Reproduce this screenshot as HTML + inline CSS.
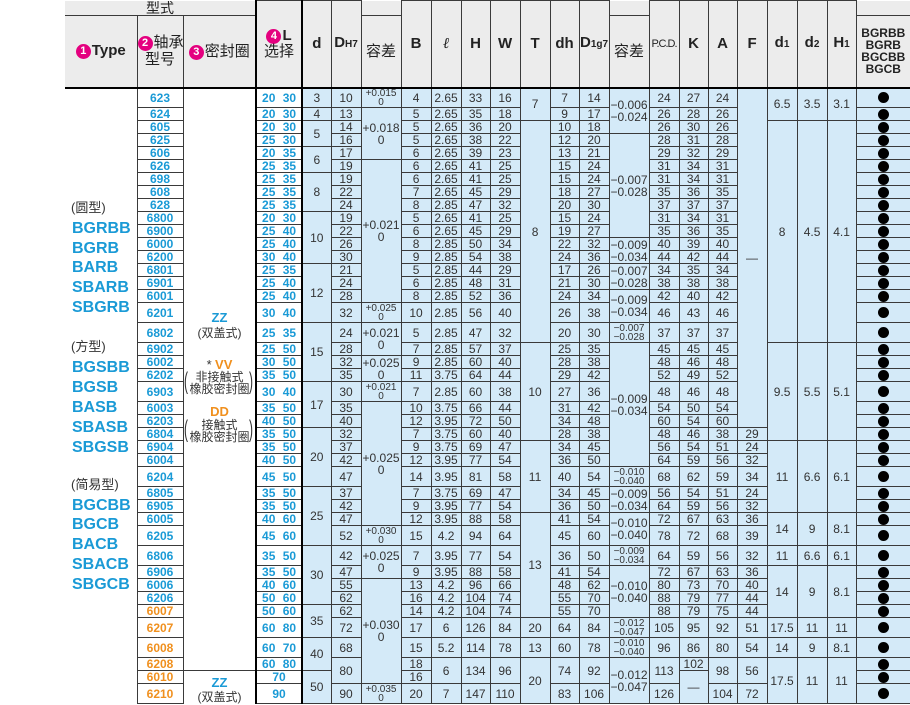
<!DOCTYPE html>
<html><head><meta charset="utf-8">
<style>
body{margin:0;width:910px;height:705px;overflow:hidden;background:#fff;position:relative;font-family:"Liberation Sans","Noto Sans CJK SC",sans-serif}
table{position:absolute;left:65px;top:0;border-collapse:collapse;table-layout:fixed;width:845px}
td{border:1px solid #3a3a3a;padding:0;text-align:center;vertical-align:middle;font:12px/12px "Liberation Sans Narrow","Liberation Sans","Noto Sans CJK SC",sans-serif;color:#333;background:#d4eaf8;overflow:hidden;white-space:nowrap}
tr{height:13px}
tr.T{height:20px}
td.n{background:#fff;color:#1a9ad6;font-weight:bold;font-family:"Liberation Sans",sans-serif}
td.o{background:#fff;color:#f0901e;font-weight:bold;font-family:"Liberation Sans",sans-serif}
td.L{background:#fff;color:#1a9ad6;font-weight:bold;font-family:"Liberation Sans",sans-serif;border-left:2px solid #000;border-right:2px solid #000;word-spacing:4px}
td.ty{background:#fff;border:none}
td.se{background:#fff;border-top:none;border-bottom:none;border-left:1px solid #3a3a3a}
td.se2{background:#fff;border-bottom:none}
td.s{font-size:10px;line-height:9px}
td.t{line-height:12px}
td.b{font-size:0;line-height:0}
td.b::after{content:"";display:inline-block;width:11px;height:11px;border-radius:50%;background:#000}
td.h{background:#ececec;font:bold 15px/16px "Liberation Sans","Noto Sans CJK SC",sans-serif;color:#222}
td.hc{background:#ececec;font:15px/17px "Liberation Sans","Noto Sans CJK SC",sans-serif;color:#222}
tr.hb td{border-bottom:2px solid #000}
sub{font-size:10px;vertical-align:baseline}
.c{display:inline-block;width:15px;height:15px;border-radius:50%;background:#e4007f;color:#fff;font:bold 11px/15px "Liberation Sans",sans-serif;text-align:center;vertical-align:1px;margin-right:1px}
.ov{position:absolute;white-space:nowrap;font-family:"Liberation Sans","Noto Sans CJK SC",sans-serif}
.bt{left:72px;font:bold 16px/20px "Liberation Sans",sans-serif;color:#1a9ad6}
.gt{left:71px;font-size:13px;line-height:16px;color:#333}
.sc{left:183px;width:73px;text-align:center;font-size:12px;line-height:13px;color:#333}
.zz{color:#1a9ad6;font-weight:bold;font-size:13px}
.vv{color:#f0901e;font-weight:bold;font-size:13px}
.par{position:absolute;font-size:24px;line-height:26px;color:#333;transform:scaleX(0.5)}
</style></head><body>
<table>
<colgroup><col style="width:72px"><col style="width:46px"><col style="width:73px"><col style="width:46px"><col style="width:29px"><col style="width:30px"><col style="width:40px"><col style="width:30px"><col style="width:30px"><col style="width:29px"><col style="width:30px"><col style="width:30px"><col style="width:29px"><col style="width:30px"><col style="width:40px"><col style="width:30px"><col style="width:29px"><col style="width:29px"><col style="width:30px"><col style="width:30px"><col style="width:30px"><col style="width:29px"><col style="width:54px"></colgroup>
<tr style="height:15px"><td colspan="3" class="hc" style="font-size:14px;line-height:14px;border-top:none;border-left:none">型式</td><td rowspan="2" class="h" style="border-left:2px solid #000;border-right:2px solid #000;border-bottom:2px solid #000"><span class="c">4</span>L<br><span style="font-weight:normal">选择</span></td><td rowspan="2" class="h" style="border-bottom:2px solid #000">d</td><td rowspan="2" class="h" style="border-bottom:2px solid #000">D<sub>H7</sub></td><td class="h" style="border-left:none;border-top:none"></td><td rowspan="2" class="h" style="border-bottom:2px solid #000">B</td><td rowspan="2" class="h" style="border-bottom:2px solid #000;font-style:italic;font-weight:normal;font-family:'Liberation Serif',serif">ℓ</td><td rowspan="2" class="h" style="border-bottom:2px solid #000">H</td><td rowspan="2" class="h" style="border-bottom:2px solid #000">W</td><td rowspan="2" class="h" style="border-bottom:2px solid #000">T</td><td rowspan="2" class="h" style="border-bottom:2px solid #000">dh</td><td rowspan="2" class="h" style="border-bottom:2px solid #000">D<sub>1g7</sub></td><td class="h" style="border-top:none"></td><td rowspan="2" class="h" style="border-bottom:2px solid #000;font-size:11px;font-weight:normal;letter-spacing:-1px">P.C.D.</td><td rowspan="2" class="h" style="border-bottom:2px solid #000">K</td><td rowspan="2" class="h" style="border-bottom:2px solid #000">A</td><td rowspan="2" class="h" style="border-bottom:2px solid #000">F</td><td rowspan="2" class="h" style="border-bottom:2px solid #000">d<sub>1</sub></td><td rowspan="2" class="h" style="border-bottom:2px solid #000">d<sub>2</sub></td><td rowspan="2" class="h" style="border-bottom:2px solid #000">H<sub>1</sub></td><td class="h" style="border-top:none;border-right:none"></td></tr>
<tr class="hb" style="height:72px"><td class="h" style="border-left:none"><span class="c">1</span>Type</td><td class="hc" style="line-height:17px"><span class="c">2</span>轴承<br>型号</td><td class="hc"><span class="c">3</span>密封圈</td><td class="hc">容差</td><td class="hc">容差</td><td class="h" style="font-size:12px;line-height:12px;border-right:none">BGRBB<br>BGRB<br>BGCBB<br>BGCB</td></tr>

<tr class="T"><td rowspan="42" class="ty"></td><td class="n">623</td><td rowspan="40" class="se"></td><td class="L">20 30</td><td>3</td><td>10</td><td class="s">+0.015<br>0</td><td>4</td><td>2.65</td><td>33</td><td>16</td><td rowspan="2">7</td><td>7</td><td>14</td><td rowspan="3" class="t">−0.006<br>−0.024</td><td>24</td><td>27</td><td>24</td><td rowspan="24">—</td><td rowspan="2">6.5</td><td rowspan="2">3.5</td><td rowspan="2">3.1</td><td class="b">●</td></tr>
<tr><td class="n">624</td><td class="L">20 30</td><td>4</td><td>13</td><td rowspan="4" class="t">+0.018<br>0</td><td>5</td><td>2.65</td><td>35</td><td>18</td><td>9</td><td>17</td><td>26</td><td>28</td><td>26</td><td class="b">●</td></tr>
<tr><td class="n">605</td><td class="L">20 30</td><td rowspan="2">5</td><td>14</td><td>5</td><td>2.65</td><td>36</td><td>20</td><td rowspan="16">8</td><td>10</td><td>18</td><td>26</td><td>30</td><td>26</td><td rowspan="16">8</td><td rowspan="16">4.5</td><td rowspan="16">4.1</td><td class="b">●</td></tr>
<tr><td class="n">625</td><td class="L">25 30</td><td>16</td><td>5</td><td>2.65</td><td>38</td><td>22</td><td>12</td><td>20</td><td rowspan="8" class="t">−0.007<br>−0.028</td><td>28</td><td>31</td><td>28</td><td class="b">●</td></tr>
<tr><td class="n">606</td><td class="L">20 35</td><td rowspan="2">6</td><td>17</td><td>6</td><td>2.65</td><td>39</td><td>23</td><td>13</td><td>21</td><td>29</td><td>32</td><td>29</td><td class="b">●</td></tr>
<tr><td class="n">626</td><td class="L">25 35</td><td>19</td><td rowspan="11" class="t">+0.021<br>0</td><td>6</td><td>2.65</td><td>41</td><td>25</td><td>15</td><td>24</td><td>31</td><td>34</td><td>31</td><td class="b">●</td></tr>
<tr><td class="n">698</td><td class="L">25 35</td><td rowspan="3">8</td><td>19</td><td>6</td><td>2.65</td><td>41</td><td>25</td><td>15</td><td>24</td><td>31</td><td>34</td><td>31</td><td class="b">●</td></tr>
<tr><td class="n">608</td><td class="L">25 35</td><td>22</td><td>7</td><td>2.65</td><td>45</td><td>29</td><td>18</td><td>27</td><td>35</td><td>36</td><td>35</td><td class="b">●</td></tr>
<tr><td class="n">628</td><td class="L">25 35</td><td>24</td><td>8</td><td>2.85</td><td>47</td><td>32</td><td>20</td><td>30</td><td>37</td><td>37</td><td>37</td><td class="b">●</td></tr>
<tr><td class="n">6800</td><td class="L">20 30</td><td rowspan="4">10</td><td>19</td><td>5</td><td>2.65</td><td>41</td><td>25</td><td>15</td><td>24</td><td>31</td><td>34</td><td>31</td><td class="b">●</td></tr>
<tr><td class="n">6900</td><td class="L">25 40</td><td>22</td><td>6</td><td>2.65</td><td>45</td><td>29</td><td>19</td><td>27</td><td>35</td><td>36</td><td>35</td><td class="b">●</td></tr>
<tr><td class="n">6000</td><td class="L">25 40</td><td>26</td><td>8</td><td>2.85</td><td>50</td><td>34</td><td>22</td><td>32</td><td rowspan="2" class="t">−0.009<br>−0.034</td><td>40</td><td>39</td><td>40</td><td class="b">●</td></tr>
<tr><td class="n">6200</td><td class="L">30 40</td><td>30</td><td>9</td><td>2.85</td><td>54</td><td>38</td><td>24</td><td>36</td><td>44</td><td>42</td><td>44</td><td class="b">●</td></tr>
<tr><td class="n">6801</td><td class="L">25 35</td><td rowspan="4">12</td><td>21</td><td>5</td><td>2.85</td><td>44</td><td>29</td><td>17</td><td>26</td><td rowspan="2" class="t">−0.007<br>−0.028</td><td>34</td><td>35</td><td>34</td><td class="b">●</td></tr>
<tr><td class="n">6901</td><td class="L">25 40</td><td>24</td><td>6</td><td>2.85</td><td>48</td><td>31</td><td>21</td><td>30</td><td>38</td><td>38</td><td>38</td><td class="b">●</td></tr>
<tr><td class="n">6001</td><td class="L">25 40</td><td>28</td><td>8</td><td>2.85</td><td>52</td><td>36</td><td>24</td><td>34</td><td rowspan="2" class="t">−0.009<br>−0.034</td><td>42</td><td>40</td><td>42</td><td class="b">●</td></tr>
<tr class="T"><td class="n">6201</td><td class="L">30 40</td><td>32</td><td class="s">+0.025<br>0</td><td>10</td><td>2.85</td><td>56</td><td>40</td><td>26</td><td>38</td><td>46</td><td>43</td><td>46</td><td class="b">●</td></tr>
<tr class="T"><td class="n">6802</td><td class="L">25 35</td><td rowspan="4">15</td><td>24</td><td rowspan="2" class="t">+0.021<br>0</td><td>5</td><td>2.85</td><td>47</td><td>32</td><td>20</td><td>30</td><td class="s">−0.007<br>−0.028</td><td>37</td><td>37</td><td>37</td><td class="b">●</td></tr>
<tr><td class="n">6902</td><td class="L">25 50</td><td>28</td><td>7</td><td>2.85</td><td>57</td><td>37</td><td rowspan="7">10</td><td>25</td><td>35</td><td rowspan="9" class="t">−0.009<br>−0.034</td><td>45</td><td>45</td><td>45</td><td rowspan="7">9.5</td><td rowspan="7">5.5</td><td rowspan="7">5.1</td><td class="b">●</td></tr>
<tr><td class="n">6002</td><td class="L">30 50</td><td>32</td><td rowspan="2" class="t">+0.025<br>0</td><td>9</td><td>2.85</td><td>60</td><td>40</td><td>28</td><td>38</td><td>48</td><td>46</td><td>48</td><td class="b">●</td></tr>
<tr><td class="n">6202</td><td class="L">35 50</td><td>35</td><td>11</td><td>3.75</td><td>64</td><td>44</td><td>29</td><td>42</td><td>52</td><td>49</td><td>52</td><td class="b">●</td></tr>
<tr class="T"><td class="n">6903</td><td class="L">30 40</td><td rowspan="3">17</td><td>30</td><td class="s">+0.021<br>0</td><td>7</td><td>2.85</td><td>60</td><td>38</td><td>27</td><td>36</td><td>48</td><td>46</td><td>48</td><td class="b">●</td></tr>
<tr><td class="n">6003</td><td class="L">35 50</td><td>35</td><td rowspan="9" class="t">+0.025<br>0</td><td>10</td><td>3.75</td><td>66</td><td>44</td><td>31</td><td>42</td><td>54</td><td>50</td><td>54</td><td class="b">●</td></tr>
<tr><td class="n">6203</td><td class="L">40 50</td><td>40</td><td>12</td><td>3.95</td><td>72</td><td>50</td><td>34</td><td>48</td><td>60</td><td>54</td><td>60</td><td class="b">●</td></tr>
<tr><td class="n">6804</td><td class="L">35 50</td><td rowspan="4">20</td><td>32</td><td>7</td><td>3.75</td><td>60</td><td>40</td><td>28</td><td>38</td><td>48</td><td>46</td><td>38</td><td>29</td><td class="b">●</td></tr>
<tr><td class="n">6904</td><td class="L">35 50</td><td>37</td><td>9</td><td>3.75</td><td>69</td><td>47</td><td rowspan="5">11</td><td>34</td><td>45</td><td>56</td><td>54</td><td>51</td><td>24</td><td rowspan="5">11</td><td rowspan="5">6.6</td><td rowspan="5">6.1</td><td class="b">●</td></tr>
<tr><td class="n">6004</td><td class="L">40 50</td><td>42</td><td>12</td><td>3.95</td><td>77</td><td>54</td><td>36</td><td>50</td><td>64</td><td>59</td><td>56</td><td>32</td><td class="b">●</td></tr>
<tr class="T"><td class="n">6204</td><td class="L">45 50</td><td>47</td><td>14</td><td>3.95</td><td>81</td><td>58</td><td>40</td><td>54</td><td class="s">−0.010<br>−0.040</td><td>68</td><td>62</td><td>59</td><td>34</td><td class="b">●</td></tr>
<tr><td class="n">6805</td><td class="L">35 50</td><td rowspan="4">25</td><td>37</td><td>7</td><td>3.75</td><td>69</td><td>47</td><td>34</td><td>45</td><td rowspan="2" class="t">−0.009<br>−0.034</td><td>56</td><td>54</td><td>51</td><td>24</td><td class="b">●</td></tr>
<tr><td class="n">6905</td><td class="L">35 50</td><td>42</td><td>9</td><td>3.95</td><td>77</td><td>54</td><td>36</td><td>50</td><td>64</td><td>59</td><td>56</td><td>32</td><td class="b">●</td></tr>
<tr><td class="n">6005</td><td class="L">40 60</td><td>47</td><td>12</td><td>3.95</td><td>88</td><td>58</td><td rowspan="7">13</td><td>41</td><td>54</td><td rowspan="2" class="t">−0.010<br>−0.040</td><td>72</td><td>67</td><td>63</td><td>36</td><td rowspan="2">14</td><td rowspan="2">9</td><td rowspan="2">8.1</td><td class="b">●</td></tr>
<tr class="T"><td class="n">6205</td><td class="L">45 60</td><td>52</td><td class="s">+0.030<br>0</td><td>15</td><td>4.2</td><td>94</td><td>64</td><td>45</td><td>60</td><td>78</td><td>72</td><td>68</td><td>39</td><td class="b">●</td></tr>
<tr class="T"><td class="n">6806</td><td class="L">35 50</td><td rowspan="4">30</td><td>42</td><td rowspan="2" class="t">+0.025<br>0</td><td>7</td><td>3.95</td><td>77</td><td>54</td><td>36</td><td>50</td><td class="s">−0.009<br>−0.034</td><td>64</td><td>59</td><td>56</td><td>32</td><td>11</td><td>6.6</td><td>6.1</td><td class="b">●</td></tr>
<tr><td class="n">6906</td><td class="L">35 50</td><td>47</td><td>9</td><td>3.95</td><td>88</td><td>58</td><td>41</td><td>54</td><td rowspan="4" class="t">−0.010<br>−0.040</td><td>72</td><td>67</td><td>63</td><td>36</td><td rowspan="4">14</td><td rowspan="4">9</td><td rowspan="4">8.1</td><td class="b">●</td></tr>
<tr><td class="n">6006</td><td class="L">40 60</td><td>55</td><td rowspan="7" class="t">+0.030<br>0</td><td>13</td><td>4.2</td><td>96</td><td>66</td><td>48</td><td>62</td><td>80</td><td>73</td><td>70</td><td>40</td><td class="b">●</td></tr>
<tr><td class="n">6206</td><td class="L">50 60</td><td>62</td><td>16</td><td>4.2</td><td>104</td><td>74</td><td>55</td><td>70</td><td>88</td><td>79</td><td>77</td><td>44</td><td class="b">●</td></tr>
<tr><td class="o">6007</td><td class="L">50 60</td><td rowspan="2">35</td><td>62</td><td>14</td><td>4.2</td><td>104</td><td>74</td><td>55</td><td>70</td><td>88</td><td>79</td><td>75</td><td>44</td><td class="b">●</td></tr>
<tr class="T"><td class="o">6207</td><td class="L">60 80</td><td>72</td><td>17</td><td>6</td><td>126</td><td>84</td><td>20</td><td>64</td><td>84</td><td class="s">−0.012<br>−0.047</td><td>105</td><td>95</td><td>92</td><td>51</td><td>17.5</td><td>11</td><td>11</td><td class="b">●</td></tr>
<tr class="T"><td class="o">6008</td><td class="L">60 70</td><td rowspan="2">40</td><td>68</td><td>15</td><td>5.2</td><td>114</td><td>78</td><td>13</td><td>60</td><td>78</td><td class="s">−0.010<br>−0.040</td><td>96</td><td>86</td><td>80</td><td>54</td><td>14</td><td>9</td><td>8.1</td><td class="b">●</td></tr>
<tr><td class="o">6208</td><td class="L">60 80</td><td rowspan="2">80</td><td>18</td><td rowspan="2">6</td><td rowspan="2">134</td><td rowspan="2">96</td><td rowspan="3">20</td><td rowspan="2">74</td><td rowspan="2">92</td><td rowspan="3" class="t">−0.012<br>−0.047</td><td rowspan="2">113</td><td>102</td><td rowspan="2">98</td><td rowspan="2">56</td><td rowspan="3">17.5</td><td rowspan="3">11</td><td rowspan="3">11</td><td class="b">●</td></tr>
<tr><td class="o">6010</td><td rowspan="2" class="se2"></td><td class="L">70</td><td rowspan="2">50</td><td>16</td><td rowspan="2">—</td><td class="b">●</td></tr>
<tr class="T"><td class="o">6210</td><td class="L">90</td><td>90</td><td class="s">+0.035<br>0</td><td>20</td><td>7</td><td>147</td><td>110</td><td>83</td><td>106</td><td>126</td><td>104</td><td>72</td><td class="b">●</td></tr>
</table>

<div class="ov gt" style="top:200px">(圆型)</div>
<div class="ov bt" style="top:219px">BGRBB</div>
<div class="ov bt" style="top:239px">BGRB</div>
<div class="ov bt" style="top:258px">BARB</div>
<div class="ov bt" style="top:278px">SBARB</div>
<div class="ov bt" style="top:298px">SBGRB</div>
<div class="ov gt" style="top:339px">(方型)</div>
<div class="ov bt" style="top:358px">BGSBB</div>
<div class="ov bt" style="top:378px">BGSB</div>
<div class="ov bt" style="top:398px">BASB</div>
<div class="ov bt" style="top:418px">SBASB</div>
<div class="ov bt" style="top:438px">SBGSB</div>
<div class="ov gt" style="top:477px">(简易型)</div>
<div class="ov bt" style="top:496px">BGCBB</div>
<div class="ov bt" style="top:515px">BGCB</div>
<div class="ov bt" style="top:535px">BACB</div>
<div class="ov bt" style="top:555px">SBACB</div>
<div class="ov bt" style="top:575px">SBGCB</div>

<div class="ov sc zz" style="top:311px">ZZ</div>
<div class="ov sc" style="top:327px">(双盖式)</div>
<div class="ov sc" style="top:358px"><span style="font-size:13px">*</span> <span class="vv">VV</span></div>
<div class="ov sc" style="top:371px">非接触式</div>
<div class="ov sc" style="top:383px">橡胶密封圈</div>
<div class="par" style="left:182px;top:369px">(</div>
<div class="par" style="left:247px;top:369px">)</div>
<div class="ov sc vv" style="top:405px">DD</div>
<div class="ov sc" style="top:419px">接触式</div>
<div class="ov sc" style="top:431px">橡胶密封圈</div>
<div class="par" style="left:182px;top:417px">(</div>
<div class="par" style="left:247px;top:417px">)</div>
<div class="ov sc zz" style="top:676px">ZZ</div>
<div class="ov sc" style="top:691px">(双盖式)</div>
</body></html>
